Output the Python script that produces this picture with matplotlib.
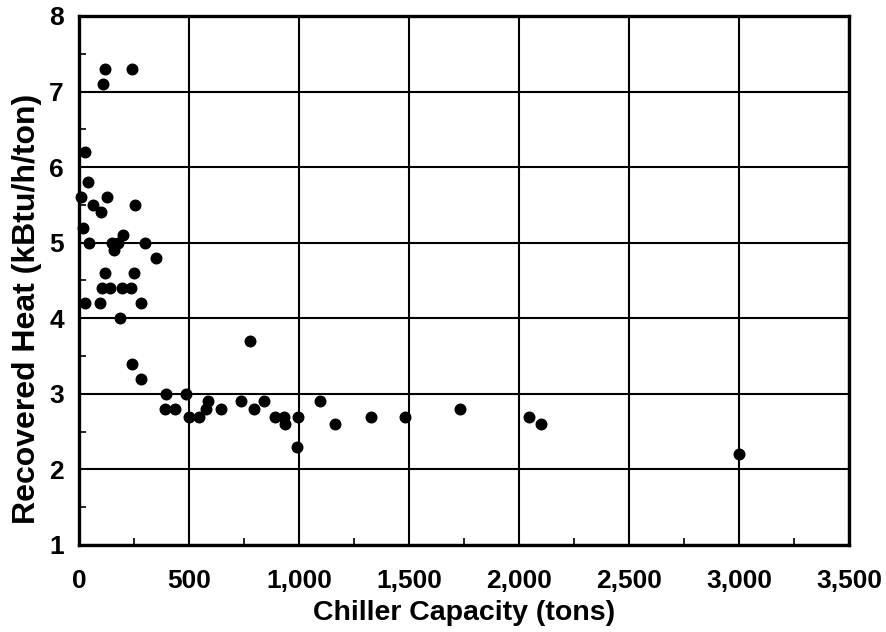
import matplotlib.pyplot as plt
from matplotlib.ticker import MultipleLocator, FuncFormatter

plt.rcParams['font.family'] = ['Liberation Sans', 'DejaVu Sans']
plt.rcParams['font.weight'] = 'bold'

# chiller capacity (tons) and recovered heat (kBtu/h/ton)
capacity = [118, 240, 110, 25, 40, 10, 125, 65, 100, 255, 20, 200,
            45, 150, 175, 300, 160, 350, 120, 250, 105, 140, 195, 235,
            25, 95, 280, 185, 775, 240, 280,
            395, 485, 390, 435, 500, 545, 575, 585, 645, 735, 795, 840,
            890, 930, 935, 995, 990, 1095, 1165, 1325, 1480, 1730,
            2047, 2100, 3000]
heat = [7.3, 7.3, 7.1, 6.2, 5.8, 5.6, 5.6, 5.5, 5.4, 5.5, 5.2, 5.1,
        5.0, 5.0, 5.0, 5.0, 4.9, 4.8, 4.6, 4.6, 4.4, 4.4, 4.4, 4.4,
        4.2, 4.2, 4.2, 4.0, 3.7, 3.4, 3.2,
        3.0, 3.0, 2.8, 2.8, 2.7, 2.7, 2.8, 2.9, 2.8, 2.9, 2.8, 2.9,
        2.7, 2.7, 2.6, 2.7, 2.3, 2.9, 2.6, 2.7, 2.7, 2.8,
        2.7, 2.6, 2.2]

fig = plt.figure(figsize=(8.86, 6.32), dpi=100)
ax = fig.add_axes([0.0892, 0.1377, 0.8690, 0.8370])

ax.plot(capacity, heat, 'o', color='black', markersize=7.6, clip_on=False, zorder=3)

ax.set_xlim(0, 3500)
ax.set_ylim(1, 8)
ax.xaxis.set_major_locator(MultipleLocator(500))
ax.xaxis.set_minor_locator(MultipleLocator(250))
ax.yaxis.set_major_locator(MultipleLocator(1))
ax.yaxis.set_minor_locator(MultipleLocator(0.5))
ax.xaxis.set_major_formatter(FuncFormatter(lambda v, p: '{:,.0f}'.format(v)))

ax.grid(True, which='major', color='black', linewidth=1.5)
ax.tick_params(which='both', direction='in', labelsize=19, width=1.2)
ax.tick_params(which='major', length=0)
ax.tick_params(axis='x', which='major', pad=17)
ax.tick_params(axis='y', which='major', pad=11)
ax.tick_params(which='minor', length=5)
ax.tick_params(axis='x', which='minor', top=False)
for s in ax.spines.values():
    s.set_linewidth(2.4)

ax.set_xlabel('Chiller Capacity (tons)', fontsize=20.5, fontweight='bold', labelpad=5)
ax.set_ylabel('Recovered Heat (kBtu/h/ton)', fontsize=23, fontweight='bold')
ax.yaxis.set_label_coords(-0.048, 0.446)

fig.savefig('out.png', dpi=100)
